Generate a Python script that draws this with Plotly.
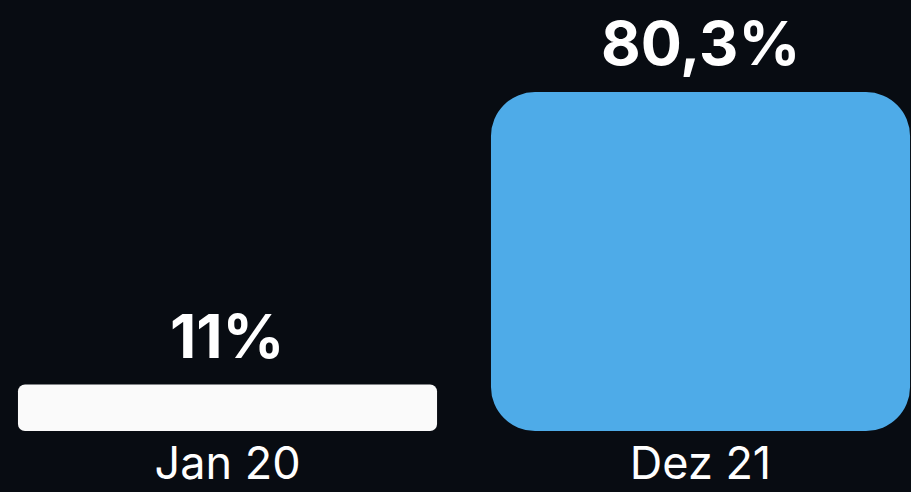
import plotly.graph_objects as go

categories = ["Jan 20", "Dez 21"]
values = [11, 80.3]
value_labels = ["11%", "80,3%"]
colors = ["#fafafa", "#4eabe8"]
radii = [7, 44]

fig = go.Figure()

# explicit base=0 gets all four corners rounded
for cat, v, c, r in zip(categories, values, colors, radii):
    fig.add_trace(go.Bar(x=[cat], y=[v], base=[0], width=0.886,
                         marker=dict(color=c, cornerradius=r, line_width=0),
                         hoverinfo="skip", showlegend=False))

for cat, v, lab in zip(categories, values, value_labels):
    fig.add_annotation(x=cat, y=v, text="<b>" + lab + "</b>", showarrow=False,
                       yanchor="bottom", yshift=10,
                       font=dict(family="Inter", size=61, color="white"))

fig.update_layout(
    barmode="overlay",
    width=911, height=492,
    margin=dict(l=0, r=0, t=0, b=61),
    paper_bgcolor="#080c12",
    plot_bgcolor="#080c12",
    font=dict(family="Inter", color="white"),
)
fig.update_xaxes(type="category", range=[-0.481, 1.445], showgrid=False,
                 zeroline=False, showline=False, ticks="", automargin=False,
                 tickfont=dict(size=45, color="white"), ticklabelstandoff=2)
fig.update_yaxes(range=[0, 102.1], visible=False)

fig.write_html("out.html", config={"displayModeBar": False},
               post_script="document.body.style.margin='0';document.body.style.background='#080c12';")
